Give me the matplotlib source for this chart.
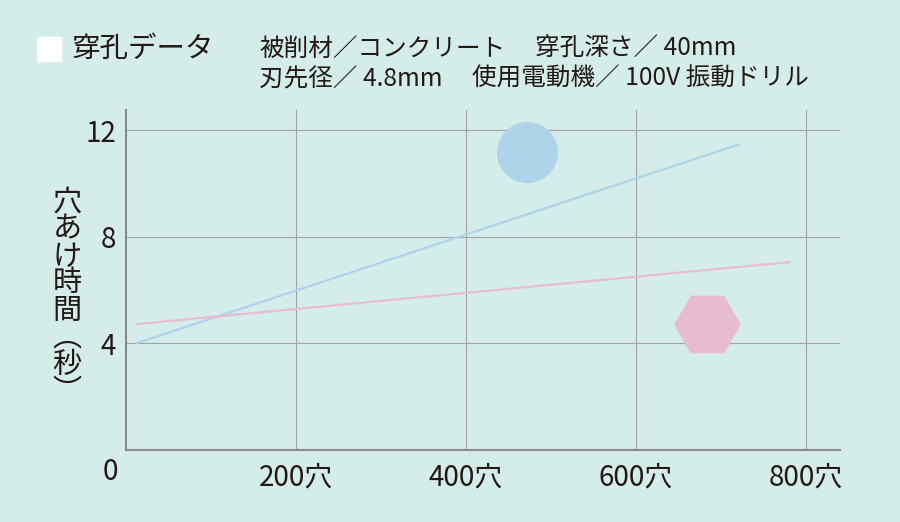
import matplotlib.pyplot as plt
from matplotlib.patches import Rectangle

# データ
holes = [12, 722]          # 穴数 (青線)
time_blue = [4.0, 11.47]
holes_pink = [12, 782]     # 穴数 (ピンク線)
time_pink = [4.72, 7.05]

circle_pt = [472, 11.17]   # 青い丸
hex_pt = [683, 4.74]       # ピンクの六角形

xticks = [200, 400, 600, 800]
xlabels = ["200穴", "400穴", "600穴", "800穴"]
yticks = [4, 8, 12]
ylabel_chars = ["穴", "あ", "け", "時", "間", "︵", "秒", "︶"]

bg = "#d4ecea"
blue = "#aed4ea"
pink = "#e8bcd0"
ink = "#231815"
jp = ["Noto Sans CJK JP", "DejaVu Sans"]
num = ["Liberation Sans Narrow", "Noto Sans CJK JP", "DejaVu Sans"]

plt.rcParams["font.family"] = jp

fig = plt.figure(figsize=(9, 5.22), dpi=100, facecolor=bg)
ax = fig.add_axes([126 / 900, 1 - 450 / 522, (840 - 126) / 900, (450 - 110) / 522])
ax.set_facecolor(bg)

ax.plot(holes, time_blue, color=blue, lw=1.6, solid_capstyle="butt")
ax.plot(holes_pink, time_pink, color=pink, lw=1.6, solid_capstyle="butt")
ax.plot(circle_pt[0], circle_pt[1], "o", ms=44, color=blue, mec="none", clip_on=False)
ax.plot(hex_pt[0], hex_pt[1], "H", ms=48, color=pink, mec="none", clip_on=False)

ax.set_xlim(0, 840)
ax.set_ylim(0, 12.75)
ax.set_xticks(xticks)
ax.set_xticklabels(xlabels, family=num, fontsize=20, color=ink)
ax.set_yticks(yticks)
ax.set_yticklabels([str(v) for v in yticks], family=num, fontsize=20, color=ink)
ax.tick_params(length=0)
ax.tick_params(axis="x", pad=9)
ax.tick_params(axis="y", pad=7)
ax.grid(True, color="#a3a3a3", lw=0.8)
ax.set_axisbelow(True)

for s in ["top", "right"]:
    ax.spines[s].set_visible(False)
for s in ["left", "bottom"]:
    ax.spines[s].set_color("#8a8a8a")
    ax.spines[s].set_linewidth(1.5)

ax.annotate("0", xy=(0, 0), xytext=(-16, -22), textcoords="offset pixels",
            ha="center", va="center", family=num, fontsize=20, color=ink)

# 縦書きの軸ラベル
fig.text(67 / 900, 1 - 297 / 522, "\n".join(ylabel_chars), ha="center", va="center",
         fontsize=21, color=ink, linespacing=0.87)

# タイトル
fig.patches.append(Rectangle((37 / 900, 1 - 61 / 522), 24 / 900, 24 / 522,
                             transform=fig.transFigure, color="white", zorder=3))
fig.text(72 / 900, 1 - 49 / 522, "穿孔データ", ha="left", va="center", fontsize=20.5, color=ink)
fig.text(259 / 900, 1 - 49 / 522, "被削材／コンクリート", ha="left", va="center", fontsize=17.7, color=ink)
fig.text(535 / 900, 1 - 49 / 522, "穿孔深さ／ 40mm", ha="left", va="center", fontsize=17.7, color=ink)
fig.text(259 / 900, 1 - 79 / 522, "刃先径／ 4.8mm", ha="left", va="center", fontsize=17.7, color=ink)
fig.text(472 / 900, 1 - 79 / 522, "使用電動機／ 100V 振動ドリル", ha="left", va="center", fontsize=17.7, color=ink)

fig.savefig("out.png", dpi=100, facecolor=bg)
